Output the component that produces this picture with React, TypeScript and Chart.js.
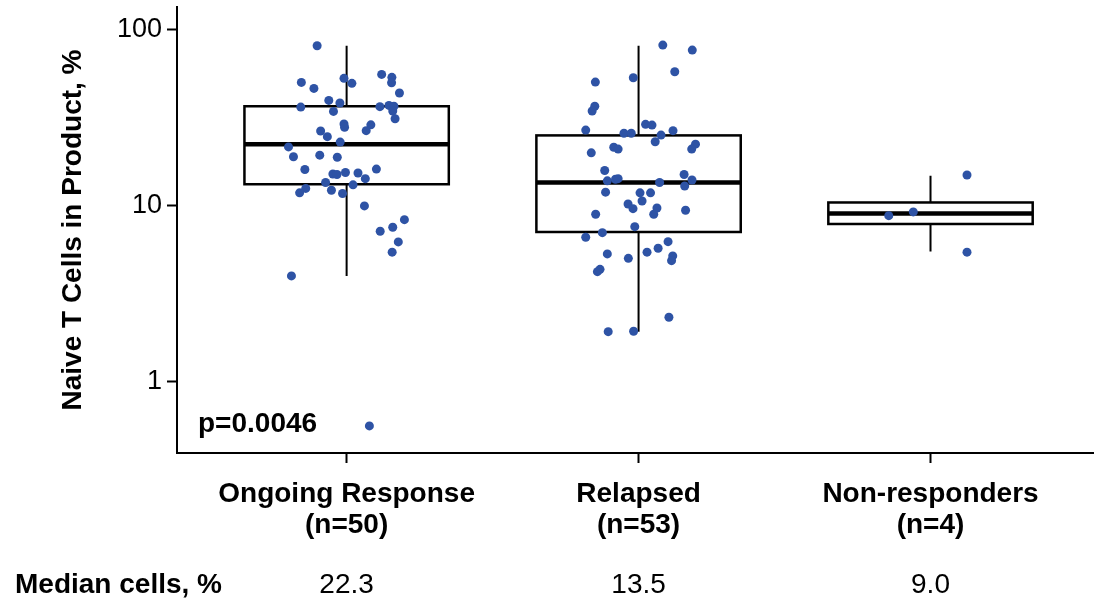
import React, { useEffect, useRef } from "react";
import { Chart, registerables } from "chart.js";

Chart.register(...registerables);

const FONT = "'Liberation Sans', Arial, Helvetica, sans-serif";

const categories = ["Ongoing Response", "Relapsed", "Non-responders"];
const groupSizes = ["(n=50)", "(n=53)", "(n=4)"];
const medianLabels = ["22.3", "13.5", "9.0"];
const medianRowTitle = "Median cells, %";
const yTicks = [1, 10, 100];
const yTitle = "Naive T Cells in Product, %";
const pValueText = "p=0.0046";

// Individual patient values (%) and horizontal jitter (in category units)
const ongoingValues = [
  80.7, 52.7, 49.4, 50.0, 46.2, 55.5, 53.4, 49.8, 43.5, 39.5,
  38.2, 36.2, 34.2, 36.4, 37.0, 36.6, 34.4, 31.1, 29.0, 27.8,
  28.7, 26.6, 26.5, 24.6, 22.9, 21.5, 18.9, 19.3, 18.8, 16.0,
  16.1, 15.1, 15.0, 15.4, 15.3, 14.2, 13.5, 13.1, 12.5, 11.8,
  12.2, 11.7, 9.94, 8.31, 7.52, 7.14, 6.21, 5.43, 3.98, 0.56,
];
const ongoingJitter = [
  -0.101, -0.009, 0.018, -0.155, -0.112, 0.12, 0.155, 0.154, 0.181, -0.061,
  -0.023, -0.157, -0.045, 0.114, 0.145, 0.162, 0.158, 0.166, -0.009, -0.007,
  0.083, 0.067, -0.089, -0.066, -0.022, -0.199, -0.182, -0.092, -0.032, -0.143,
  0.102, -0.047, -0.033, -0.004, 0.039, 0.064, -0.072, 0.022, -0.14, -0.161,
  -0.052, -0.014, 0.061, 0.198, 0.158, 0.115, 0.177, 0.156, -0.189, 0.078,
];

const relapsedValues = [
  81.4, 76.3, 57.5, 50.2, 53.1, 36.6, 34.4, 26.8, 25.7, 25.7,
  28.9, 28.6, 26.6, 25.1, 23.0, 21.4, 20.9, 19.9, 22.3, 20.9,
  15.8, 15.0, 13.8, 14.1, 14.2, 13.5, 13.95, 12.9, 11.9, 11.8,
  11.8, 10.6, 10.2, 9.59, 9.68, 8.91, 8.91, 9.39, 7.58, 7.01,
  6.6, 6.23, 5.72, 5.43, 5.31, 5.01, 5.17, 4.86, 4.34, 4.21,
  1.92, 1.93, 2.32,
];
const relapsedJitter = [
  0.083, 0.184, 0.124, -0.148, -0.018, -0.15, -0.159, -0.181, -0.05, -0.025,
  0.024, 0.046, 0.118, 0.077, 0.057, -0.085, -0.07, -0.162, 0.195, 0.182,
  -0.116, 0.156, -0.107, -0.079, -0.07, 0.072, 0.183, 0.158, -0.113, 0.005,
  0.041, 0.012, -0.036, -0.019, 0.063, 0.052, -0.147, 0.161, -0.013, -0.124,
  -0.181, 0.101, 0.067, 0.029, -0.107, -0.035, 0.117, 0.113, -0.132, -0.141,
  -0.104, -0.017, 0.104,
];

const nonResponderValues = [8.75, 9.19, 14.9, 5.43];
const nonResponderJitter = [-0.143, -0.059, 0.125, 0.125];

// Box plot statistics per group
const boxQ1 = [13.2, 7.07, 7.85];
const boxMedian = [22.3, 13.5, 9.0];
const boxQ3 = [36.6, 25.0, 10.4];
const whiskerLow = [3.98, 1.92, 5.47];
const whiskerHigh = [80.7, 80.7, 14.76];

const groupValues = [ongoingValues, relapsedValues, nonResponderValues];
const groupJitter = [ongoingJitter, relapsedJitter, nonResponderJitter];

const BOX_HALF = 0.35;
const DOT_COLOR = "#2E53A5";

const boxPlugin = {
  id: "boxPlot",
  beforeDatasetsDraw(chart: any) {
    const { ctx } = chart;
    const x = chart.scales.x;
    const y = chart.scales.y;
    ctx.save();
    ctx.strokeStyle = "#000";
    ctx.lineCap = "butt";
    for (let i = 0; i < categories.length; i++) {
      const cx = x.getPixelForValue(i + 1);
      const left = x.getPixelForValue(i + 1 - BOX_HALF);
      const right = x.getPixelForValue(i + 1 + BOX_HALF);
      const yQ1 = y.getPixelForValue(boxQ1[i]);
      const yQ3 = y.getPixelForValue(boxQ3[i]);
      const yMed = y.getPixelForValue(boxMedian[i]);
      const yHi = y.getPixelForValue(whiskerHigh[i]);
      const yLo = y.getPixelForValue(whiskerLow[i]);
      ctx.lineWidth = 2;
      ctx.beginPath();
      ctx.moveTo(cx, yHi);
      ctx.lineTo(cx, yQ3);
      ctx.moveTo(cx, yQ1);
      ctx.lineTo(cx, yLo);
      ctx.stroke();
      ctx.fillStyle = "#fff";
      ctx.fillRect(left, yQ3, right - left, yQ1 - yQ3);
      ctx.lineWidth = 2.5;
      ctx.strokeRect(left, yQ3, right - left, yQ1 - yQ3);
      ctx.lineWidth = 4.5;
      ctx.beginPath();
      ctx.moveTo(left, yMed);
      ctx.lineTo(right, yMed);
      ctx.stroke();
    }
    ctx.restore();
  },
  afterDraw(chart: any) {
    const { ctx, chartArea } = chart;
    const x = chart.scales.x;
    ctx.save();
    ctx.fillStyle = "#000";
    ctx.textBaseline = "alphabetic";
    ctx.font = `bold 28px ${FONT}`;
    ctx.textAlign = "left";
    ctx.fillText(pValueText, chartArea.left + 21, chartArea.bottom - 21);
    ctx.fillText(medianRowTitle, 15, chart.height - 7);
    ctx.font = `28px ${FONT}`;
    ctx.textAlign = "center";
    for (let i = 0; i < medianLabels.length; i++) {
      ctx.fillText(medianLabels[i], x.getPixelForValue(i + 1), chart.height - 7);
    }
    ctx.restore();
  },
};

export default function App() {
  const canvasRef = useRef<HTMLCanvasElement | null>(null);

  useEffect(() => {
    if (!canvasRef.current) return;
    const datasets = groupValues.map((vals, g) => ({
      label: categories[g],
      data: vals.map((v, k) => ({ x: g + 1 + groupJitter[g][k], y: v })),
      backgroundColor: DOT_COLOR,
      borderColor: DOT_COLOR,
      borderWidth: 0,
      pointRadius: 4.5,
      pointHoverRadius: 4.5,
    }));

    const chart = new Chart(canvasRef.current, {
      type: "scatter",
      data: { datasets },
      plugins: [boxPlugin],
      options: {
        animation: false,
        responsive: false,
        devicePixelRatio: 1,
        layout: { autoPadding: false, padding: { top: 7, left: 0, right: 0, bottom: 0 } },
        plugins: {
          legend: { display: false },
          tooltip: { enabled: false },
        },
        scales: {
          x: {
            type: "linear",
            min: 0.419,
            max: 3.56,
            afterBuildTicks: (s: any) => {
              s.ticks = categories.map((_, i) => ({ value: i + 1 }));
            },
            afterFit: (s: any) => {
              s.height = 147;
              s.paddingLeft = 0;
              s.paddingRight = 0;
            },
            grid: {
              drawOnChartArea: false,
              drawTicks: true,
              tickLength: 10,
              tickWidth: 2,
              tickColor: "#000",
            },
            border: { display: true, color: "#000", width: 2 },
            ticks: {
              color: "#000",
              padding: 15,
              maxRotation: 0,
              autoSkip: false,
              font: { family: FONT, size: 28, weight: "bold", lineHeight: 1.13 },
              callback: (v: any) => {
                const i = Math.round(Number(v)) - 1;
                return [categories[i], groupSizes[i]];
              },
            },
          },
          y: {
            type: "logarithmic",
            min: 0.393,
            max: 134,
            afterBuildTicks: (s: any) => {
              s.ticks = yTicks.map((v) => ({ value: v }));
            },
            afterFit: (s: any) => {
              s.width = 177;
              s.paddingTop = 0;
              s.paddingBottom = 0;
            },
            grid: {
              drawOnChartArea: false,
              drawTicks: true,
              tickLength: 10,
              tickWidth: 2,
              tickColor: "#000",
            },
            border: { display: true, color: "#000", width: 2 },
            title: {
              display: true,
              text: yTitle,
              color: "#000",
              font: { family: FONT, size: 28, weight: "bold" },
              padding: { top: 56, bottom: 0 },
            },
            ticks: {
              color: "#000",
              padding: 5,
              font: { family: FONT, size: 27 },
              callback: (v: any) => String(v),
            },
          },
        },
      },
    });
    return () => chart.destroy();
  }, []);

  return (
    <div style={{ position: "fixed", left: 0, top: 0, width: 1094, height: 600, background: "#fff" }}>
      <canvas ref={canvasRef} width={1094} height={600} />
    </div>
  );
}
